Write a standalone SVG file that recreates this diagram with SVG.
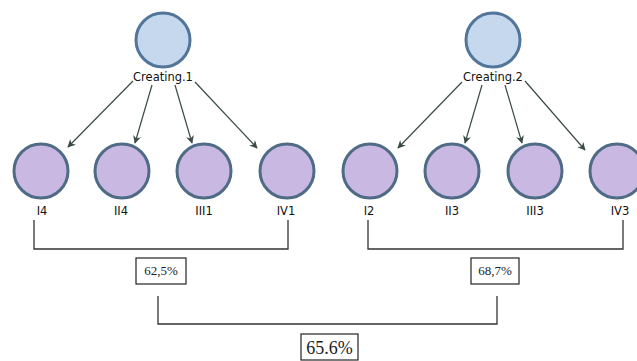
<svg xmlns="http://www.w3.org/2000/svg" width="637" height="361" viewBox="0 0 637 361">
<defs>
<marker id="ah" viewBox="0 0 10 10" refX="9" refY="5" markerWidth="8" markerHeight="8" markerUnits="userSpaceOnUse" orient="auto">
<path d="M0,0 L10,5 L0,10 L3,5 Z" fill="#3a4a44"/>
</marker>
<style>
.top{fill:#c5d8ee;stroke:#52769a;stroke-width:3}
.leaf{fill:#c9b9e2;stroke:#4f6b86;stroke-width:3}
.lbl{font-family:"DejaVu Sans","Liberation Sans",sans-serif;font-size:11.5px;fill:#111;text-anchor:middle}
.edge{stroke:#3a4a44;stroke-width:1.2;fill:none;marker-end:url(#ah)}
.br{stroke:#333;stroke-width:1.3;fill:none}
.box{fill:#fff;stroke:#222;stroke-width:1.2}
.pct{font-family:"Liberation Serif",serif;font-size:13px;fill:#222;text-anchor:middle}
.pctb{font-family:"Liberation Serif",serif;font-size:18px;fill:#222;text-anchor:middle}
</style>
</defs>
<rect width="637" height="361" fill="#fff"/>
<g id="connectors">
<line class="edge" x1="133" y1="81" x2="68" y2="147"/>
<line class="edge" x1="152" y1="85" x2="135" y2="143"/>
<line class="edge" x1="175" y1="85" x2="192" y2="143"/>
<line class="edge" x1="195" y1="82" x2="257" y2="148"/>
<line class="edge" x1="462" y1="82" x2="398" y2="148"/>
<line class="edge" x1="482" y1="85" x2="465" y2="143"/>
<line class="edge" x1="505" y1="85" x2="522" y2="143"/>
<line class="edge" x1="525" y1="81" x2="585" y2="150"/>
<polyline class="br" points="34,220 34,249 288,249 288,220"/>
<polyline class="br" points="368,220 368,249 623,249 623,220"/>
<polyline class="br" points="158,296 158,324 497,324 497,296"/>
</g>
<g id="creating1"><circle class="top" cx="163" cy="40" r="27"/><text class="lbl" x="163" y="81">Creating.1</text></g>
<g id="creating2"><circle class="top" cx="493" cy="40" r="27"/><text class="lbl" x="493" y="81">Creating.2</text></g>
<g id="I4"><circle class="leaf" cx="41" cy="171" r="27"/><text class="lbl" x="42" y="215">I4</text></g>
<g id="II4"><circle class="leaf" cx="122" cy="171" r="27"/><text class="lbl" x="121" y="215">II4</text></g>
<g id="III1"><circle class="leaf" cx="204" cy="171" r="27"/><text class="lbl" x="204" y="215">III1</text></g>
<g id="IV1"><circle class="leaf" cx="287" cy="171" r="27"/><text class="lbl" x="286" y="215">IV1</text></g>
<g id="I2"><circle class="leaf" cx="370" cy="171" r="27"/><text class="lbl" x="369" y="215">I2</text></g>
<g id="II3"><circle class="leaf" cx="452" cy="171" r="27"/><text class="lbl" x="452" y="215">II3</text></g>
<g id="III3"><circle class="leaf" cx="535" cy="171" r="27"/><text class="lbl" x="535" y="215">III3</text></g>
<g id="IV3"><circle class="leaf" cx="617" cy="171" r="27"/><text class="lbl" x="620" y="215">IV3</text></g>
<g id="p1"><rect class="box" x="136" y="258" width="50" height="26"/><text class="pct" x="161" y="275">62,5%</text></g>
<g id="p2"><rect class="box" x="471" y="258" width="48" height="26"/><text class="pct" x="495" y="275">68,7%</text></g>
<g id="p3"><rect class="box" x="301" y="334" width="57" height="26"/><text class="pctb" x="329.5" y="354">65.6%</text></g>
</svg>
